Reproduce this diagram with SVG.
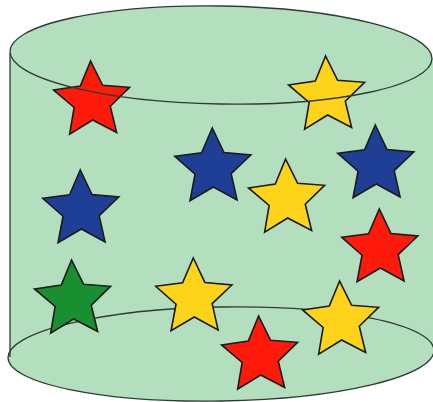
<svg xmlns="http://www.w3.org/2000/svg" width="433" height="402" viewBox="0 0 433 402">
<style>
.cyl{fill:#b3dfbf;stroke:none}
.edge{fill:none;stroke:#2e3b30;stroke-width:1.3}
.star{stroke:#1a1a1a;stroke-width:1.6;stroke-linejoin:miter}
.red{fill:#fe1b0c}.yel{fill:#fed41b}.blu{fill:#1f3e95}.grn{fill:#1a8f2f}
</style>
<defs>
<polygon id="s" points="0,-40 11.17,-15.37 38.04,-12.36 18.07,5.87 23.51,32.36 0,19 -23.51,32.36 -18.07,5.87 -38.04,-12.36 -11.17,-15.37"/>
</defs>
<rect width="433" height="402" fill="#ffffff"/>
<g id="cylinder">
<path class="cyl" d="M10,53 L10,356 L433,350 L433,58 Z"/>
<ellipse class="cyl" cx="221" cy="354" rx="213" ry="47" transform="rotate(-1 221 354)"/>
<ellipse class="cyl" cx="221" cy="55" rx="211" ry="49" transform="rotate(1 221 55)"/>
<line class="edge" x1="10" y1="53" x2="10" y2="357"/>
<ellipse class="edge" cx="221" cy="354" rx="213" ry="47" transform="rotate(-1 221 354)"/>
</g>
<g id="stars">
<g id="star-red-1"><use href="#s" class="star red" transform="translate(92,101) rotate(-2)"/></g>
<g id="star-yellow-1"><use href="#s" class="star yel" transform="translate(327,96) rotate(-2)"/></g>
<g id="star-blue-1"><use href="#s" class="star blu" transform="translate(213,168) rotate(-1)"/></g>
<g id="star-blue-2"><use href="#s" class="star blu" transform="translate(376,165) rotate(-1)"/></g>
<g id="star-yellow-2"><use href="#s" class="star yel" transform="translate(287,199) rotate(-2)"/></g>
<g id="star-blue-3"><use href="#s" class="star blu" transform="translate(81,210) rotate(-1)"/></g>
<g id="star-red-2"><use href="#s" class="star red" transform="translate(380,249) rotate(-1)"/></g>
<g id="star-green"><use href="#s" class="star grn" transform="translate(73,300) rotate(-2)"/></g>
<g id="star-yellow-3"><use href="#s" class="star yel" transform="translate(194,298) rotate(-1)"/></g>
<g id="star-red-3"><use href="#s" class="star red" transform="translate(260,356) rotate(-2)"/></g>
<g id="star-yellow-4"><use href="#s" class="star yel" transform="translate(341,321) rotate(-2)"/></g>
</g>
<g id="top-rim">
<ellipse class="edge" cx="221" cy="55" rx="211" ry="49" transform="rotate(1 221 55)"/>
</g>
</svg>
